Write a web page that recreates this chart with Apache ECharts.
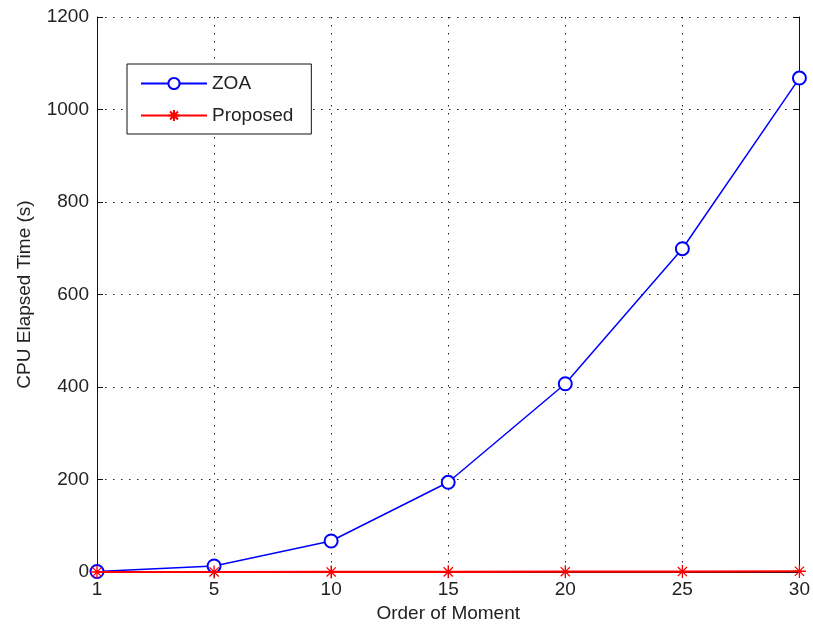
<!DOCTYPE html>
<html>
<head>
<meta charset="utf-8">
<title>CPU Elapsed Time vs Order of Moment</title>
<script src="https://cdn.jsdelivr.net/npm/echarts@6/dist/echarts.min.js"></script>
<style>
  html, body { margin: 0; padding: 0; background: #fff; }
  #chart { width: 813px; height: 629px; }
</style>
</head>
<body>
<div id="chart"></div>
<script>
// Moment orders on the horizontal axis
const orders = ['1', '5', '10', '15', '20', '25', '30'];
// CPU elapsed time in seconds
const zoaTimes = [1, 13, 67, 194, 407, 699, 1068];
const proposedTimes = [0.02, 0.05, 0.15, 0.3, 0.6, 1.0, 1.6];
// Vertical axis range
const yMin = 0, yMax = 1200, yStep = 200;

const FONT = '"Liberation Sans", Arial, sans-serif';
const TXT = '#222';
// eight-armed asterisk marker (plus and cross)
const asterisk = 'path://M0,-10L0,10M-10,0L10,0M-7.07,-7.07L7.07,7.07M-7.07,7.07L7.07,-7.07';

const dotted = { color: '#222', width: 1, type: [1.5, 6.5] };

const chart = echarts.init(document.getElementById('chart'), null, { renderer: 'canvas' });
chart.setOption({
  backgroundColor: '#fff',
  animation: false,
  textStyle: { fontFamily: FONT },
  grid: { left: 97, right: 12, top: 17, bottom: 57, containLabel: false },
  legend: {
    orient: 'vertical',
    left: 127, top: 64,
    padding: [10, 18, 9, 13],
    borderColor: '#111', borderWidth: 1,
    backgroundColor: '#fff',
    itemWidth: 66, itemHeight: 14, itemGap: 13,
    textStyle: { fontFamily: FONT, fontSize: 19, color: TXT, padding: [0, 0, 0, 0] },
    data: ['ZOA', 'Proposed']
  },
  xAxis: [{
    type: 'category', data: orders, boundaryGap: false,
    name: 'Order of Moment', nameLocation: 'middle', nameGap: 32,
    nameTextStyle: { fontFamily: FONT, fontSize: 19, color: TXT },
    axisLine: { lineStyle: { color: '#111', width: 1 } },
    axisTick: { inside: true, length: 6, alignWithLabel: true, lineStyle: { color: '#111' } },
    axisLabel: { fontFamily: FONT, fontSize: 19, color: TXT, margin: 8 },
    splitLine: { show: true, lineStyle: dotted }
  }, {
    type: 'category', data: orders, boundaryGap: false, position: 'top',
    axisLine: { lineStyle: { color: '#111', width: 1 } },
    axisTick: { inside: true, length: 6, lineStyle: { color: '#111' } },
    axisLabel: { show: false }, splitLine: { show: false }
  }],
  yAxis: [{
    type: 'value', min: yMin, max: yMax, interval: yStep,
    name: 'CPU Elapsed Time (s)', nameLocation: 'middle', nameGap: 63,
    nameTextStyle: { fontFamily: FONT, fontSize: 19, color: TXT },
    axisLine: { show: true, lineStyle: { color: '#111', width: 1 } },
    axisTick: { show: true, inside: true, length: 6, lineStyle: { color: '#111' } },
    axisLabel: { fontFamily: FONT, fontSize: 19, color: TXT, margin: 8,
                 formatter: v => String(v) },
    splitLine: { show: true, lineStyle: dotted }
  }, {
    type: 'value', min: yMin, max: yMax, interval: yStep, position: 'right',
    axisLine: { show: true, lineStyle: { color: '#111', width: 1 } },
    axisTick: { show: true, inside: true, length: 6, lineStyle: { color: '#111' } },
    axisLabel: { show: false }, splitLine: { show: false }
  }],
  series: [{
    name: 'ZOA', type: 'line', data: zoaTimes,
    xAxisIndex: 0, yAxisIndex: 0,
    symbol: 'emptyCircle', symbolSize: 13,
    lineStyle: { color: '#0000ff', width: 1.5 },
    itemStyle: { color: '#0000ff', borderColor: '#0000ff', borderWidth: 1.5 },
    z: 3
  }, {
    name: 'Proposed', type: 'line', data: proposedTimes,
    xAxisIndex: 0, yAxisIndex: 0,
    symbol: asterisk, symbolSize: 13,
    lineStyle: { color: '#ff0000', width: 2.2 },
    itemStyle: { color: '#ff0000', borderColor: '#ff0000', borderWidth: 1.3 },
    z: 4
  }]
});
</script>
</body>
</html>
